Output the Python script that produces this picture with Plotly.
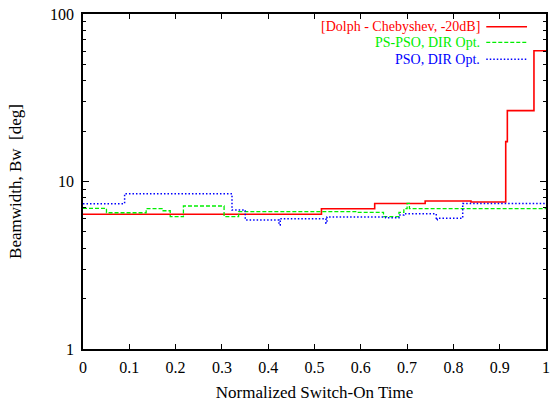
import plotly.graph_objects as go

# Step edges (normalized switch-on time) and beamwidth level held over each interval
dolph_edges = [0.0, 0.515, 0.630, 0.739, 0.838, 0.913, 0.9165, 0.974, 1.0]
dolph_bw = [6.37, 6.88, 7.39, 7.65, 7.55, 17.3, 26.5, 60.4]

pspso_edges = [0.0, 0.0507, 0.1364, 0.1707, 0.1884, 0.2169, 0.3047, 0.336,
               0.593, 0.649, 0.6824, 0.693, 0.700, 0.705, 1.0]
pspso_bw = [6.92, 6.51, 6.88, 6.69, 6.17, 7.14, 6.17, 6.61,
            6.55, 6.17, 6.55, 6.88, 7.41, 6.88]

pso_edges = [0.0, 0.0899, 0.3218, 0.3505, 0.4233, 0.426, 0.5247, 0.527,
             0.6537, 0.6824, 0.693, 0.763, 0.765, 0.8201, 1.0]
pso_bw = [7.37, 8.46, 6.76, 5.89, 5.50, 6.00, 5.64, 6.14,
          6.08, 6.31, 6.42, 5.89, 6.03, 7.39]

x_ticks = [0, 0.1, 0.2, 0.3, 0.4, 0.5, 0.6, 0.7, 0.8, 0.9, 1]
x_labels = ["0", "0.1", "0.2", "0.3", "0.4", "0.5", "0.6", "0.7", "0.8", "0.9", "1"]
y_ticks = [1, 10, 100]
y_labels = ["1", "10", "100"]
y_minor = [m * d for d in (1, 10) for m in range(2, 10)]

series = [
    ("[Dolph - Chebyshev, -20dB]", dolph_edges, dolph_bw, "#ff0000", "solid", 1.6),
    ("PS-PSO, DIR Opt.", pspso_edges, pspso_bw, "#00ee00", "4px,2px", 1.3),
    ("PSO, DIR Opt.", pso_edges, pso_bw, "#0000ff", "1.5px,2px", 1.5),
]

FONT = "Liberation Serif, Times New Roman, serif"

fig = go.Figure()
for name, edges, vals, color, dash, width in series:
    fig.add_trace(go.Scatter(
        x=edges, y=vals + [vals[-1]], mode="lines", name=name,
        line=dict(color=color, dash=dash, width=width, shape="hv"),
        showlegend=False,
    ))

# Key in the top-right corner: right-aligned coloured label with a line sample after it
key_y = [0.962, 0.9155, 0.865]
for (name, _, _, color, dash, width), ky in zip(series, key_y):
    fig.add_annotation(
        x=0.861, y=ky, xref="paper", yref="paper", text=name, showarrow=False,
        xanchor="right", yanchor="middle", font=dict(family=FONT, size=14, color=color),
    )
    fig.add_shape(
        type="line", xref="paper", yref="paper", x0=0.871, x1=0.959, y0=ky, y1=ky,
        line=dict(color=color, dash=dash, width=width),
    )

axis_common = dict(
    showgrid=False, zeroline=False, showline=True, linecolor="black", linewidth=1.5,
    mirror="allticks", ticks="inside", tickcolor="black", tickwidth=1,
    tickfont=dict(family=FONT, size=16, color="black"),
)

fig.update_xaxes(
    range=[0, 1], tickvals=x_ticks, ticktext=x_labels, ticklen=5,
    ticklabelstandoff=3,
    title=dict(text="Normalized Switch-On Time", font=dict(family=FONT, size=17, color="black"),
               standoff=11),
    **axis_common,
)
fig.update_yaxes(
    type="log", range=[0, 2], tickvals=y_ticks, ticktext=y_labels, ticklen=6,
    ticklabelstandoff=4,
    minor=dict(tickvals=y_minor, ticks="inside", ticklen=3, tickcolor="black", tickwidth=1),
    title=dict(text="Beamwidth, Bw  [deg]", font=dict(family=FONT, size=17, color="black"),
               standoff=24),
    **axis_common,
)

fig.update_layout(
    width=552, height=403,
    margin=dict(l=83, r=2, t=14, b=54),
    paper_bgcolor="white", plot_bgcolor="white",
    font=dict(family=FONT, color="black"),
)

fig.write_html("out.html")
